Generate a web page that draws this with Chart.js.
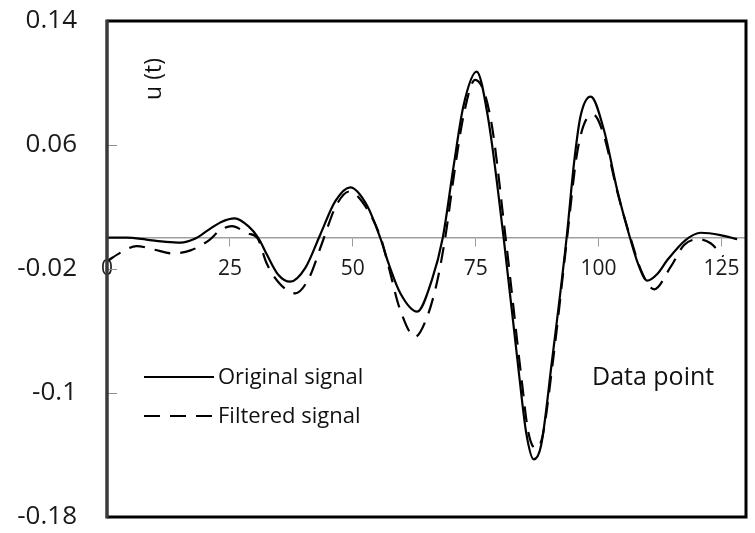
<!DOCTYPE html>
<html>
<head>
<meta charset="utf-8">
<script src="https://cdn.jsdelivr.net/npm/chart.js@4"></script>
<style>
  html, body { margin: 0; padding: 0; background: #ffffff; }
  #wrap { width: 755px; height: 533px; }
</style>
</head>
<body>
<div id="wrap"><canvas id="c" width="755" height="533"></canvas></div>
<script>
// ---- data ----
const originalX = [0, 4, 8, 12, 15, 17.75, 20.5, 23.25, 26, 28.8, 30.8, 32.5, 34.8, 37.3, 40.35, 43.4, 46.45, 49.5, 52.9, 55.6, 57.3, 59.7, 63.1, 66.1, 68.3, 70.5, 72.5, 75.2, 77.5, 80.7, 83.9, 85.3, 86.8, 88.3, 90.5, 93.5, 95, 96.3, 98.4, 101.1, 103.8, 106.5, 108.2, 109.9, 112, 114, 117.7, 120.8, 124.8, 128.2];
const originalY = [0.0003, 0.0002, -0.001, -0.0025, -0.003, -0.0007, 0.0049, 0.0104, 0.0127, 0.0075, 0.0, -0.0105, -0.0235, -0.0282, -0.0193, 0.0023, 0.0238, 0.0327, 0.021, 0.0, -0.0166, -0.0358, -0.0475, -0.027, 0.0, 0.046, 0.085, 0.1073, 0.078, 0.0, -0.09, -0.126, -0.1428, -0.134, -0.08, 0.0, 0.048, 0.078, 0.0912, 0.0697, 0.031, -0.001, -0.018, -0.0275, -0.023, -0.0142, -0.0013, 0.0034, 0.0019, -0.0008];

const filteredX = [0, 3, 6, 9.6, 13.2, 17, 20.8, 23, 25.4, 28.6, 30.6, 32.5, 35.1, 38.3, 41.05, 43.8, 46.55, 49.3, 52.65, 55.7, 57.3, 59.5, 62.7, 65, 67.1, 68.8, 70.7, 72.6, 74.9, 78, 81.1, 84.3, 85.7, 87.2, 88.6, 90.7, 93.6, 95.5, 97, 99, 101.1, 103.8, 106.7, 108.8, 111.3, 114.7, 117.4, 120.4, 122.8, 125.4];
const filteredY = [-0.015, -0.009, -0.0052, -0.0075, -0.0099, -0.008, -0.0013, 0.005, 0.0077, 0.003, 0.0, -0.0165, -0.0293, -0.0357, -0.0261, -0.0029, 0.0204, 0.030, 0.020, 0.0, -0.0185, -0.045, -0.0637, -0.052, -0.029, 0.0, 0.043, 0.08, 0.102, 0.078, 0.0, -0.09, -0.125, -0.1357, -0.128, -0.08, 0.0, 0.052, 0.073, 0.0794, 0.066, 0.03, -0.002, -0.022, -0.0331, -0.0185, -0.0045, -0.0008, -0.0034, -0.012];

const seriesNames = ["Original signal", "Filtered signal"];
const xTickValues = [0, 25, 50, 75, 100, 125];
const yTickValues = [-0.18, -0.10, -0.02, 0.06, 0.14];
const yTickLabels = ["-0.18", "-0.1", "-0.02", "0.06", "0.14"];
const yAxisTitle = "u (t)";
const xAxisTitle = "Data point";

const toPoints = (xs, ys) => xs.map((x, i) => ({ x: x, y: ys[i] }));

const framePlugin = {
  id: 'frame',
  afterDraw(chart) {
    const ctx = chart.ctx;
    const a = chart.chartArea;
    const ys = chart.scales.y;
    ctx.save();
    // inner y tick marks
    ctx.strokeStyle = '#8c8c8c';
    ctx.lineWidth = 1;
    yTickValues.forEach(v => {
      const py = Math.round(ys.getPixelForValue(v)) + 0.5;
      ctx.beginPath();
      ctx.moveTo(a.left, py);
      ctx.lineTo(a.left + 10, py);
      ctx.stroke();
    });
    // frame
    ctx.strokeStyle = '#000';
    ctx.lineWidth = 3;
    ctx.beginPath();
    ctx.moveTo(a.left, a.top);
    ctx.lineTo(a.right, a.top);
    ctx.lineTo(a.right, a.bottom);
    ctx.lineTo(a.left, a.bottom);
    ctx.stroke();
    ctx.strokeStyle = '#3a3a3a';
    ctx.lineWidth = 3.5;
    ctx.beginPath();
    ctx.moveTo(a.left, a.top - 1.5);
    ctx.lineTo(a.left, a.bottom + 1.5);
    ctx.stroke();

    // legend
    ctx.font = '22px "Open Sans"';
    ctx.textBaseline = 'middle';
    ctx.textAlign = 'left';
    ctx.fillStyle = '#111';
    const ds = chart.data.datasets;
    const rows = [377, 416];
    ds.forEach((d, i) => {
      ctx.strokeStyle = '#000';
      ctx.lineWidth = 2.2;
      ctx.setLineDash(d.borderDash || []);
      ctx.beginPath();
      ctx.moveTo(144, rows[i]);
      ctx.lineTo(214, rows[i]);
      ctx.stroke();
      ctx.setLineDash([]);
      ctx.fillText(d.label, 218, rows[i] + 1);
    });

    // axis titles
    ctx.font = '25px "Open Sans"';
    ctx.fillText(xAxisTitle, 592, 378);
    ctx.save();
    ctx.translate(154, 79);
    ctx.rotate(-Math.PI / 2);
    ctx.textAlign = 'center';
    ctx.font = '23px "Open Sans"';
    ctx.fillText(yAxisTitle, 0, 0);
    ctx.restore();
    ctx.restore();
  }
};

new Chart(document.getElementById('c'), {
  type: 'line',
  data: {
    datasets: [
      {
        label: seriesNames[0],
        data: toPoints(originalX, originalY),
        borderColor: '#000',
        borderWidth: 2.2,
        pointRadius: 0,
        cubicInterpolationMode: 'monotone',
        fill: false
      },
      {
        label: seriesNames[1],
        data: toPoints(filteredX, filteredY),
        borderColor: '#000',
        borderWidth: 2.2,
        borderDash: [16, 10],
        pointRadius: 0,
        cubicInterpolationMode: 'monotone',
        fill: false
      }
    ]
  },
  options: {
    responsive: false,
    devicePixelRatio: 1,
    animation: false,
    layout: { padding: { left: 0, top: 21, right: 9, bottom: 16 } },
    plugins: { legend: { display: false }, tooltip: { enabled: false } },
    scales: {
      x: {
        type: 'linear',
        position: { y: 0 },
        min: 0,
        max: 130,
        afterBuildTicks: s => { s.ticks = xTickValues.map(v => ({ value: v })); },
        afterFit: s => { s.height = 0; s.paddingLeft = 0; s.paddingRight = 0; },
        grid: { drawOnChartArea: false, drawTicks: true, tickLength: 8, tickColor: '#9a9a9a', tickWidth: 1 },
        border: { display: true, color: '#a0a0a0', width: 1.5 },
        ticks: { color: '#1a1a1a', font: { family: 'Open Sans', size: 21 }, padding: 10, maxRotation: 0, autoSkip: false }
      },
      y: {
        type: 'linear',
        min: -0.18,
        max: 0.14,
        afterBuildTicks: s => { s.ticks = yTickValues.map(v => ({ value: v })); },
        afterFit: s => { s.width = 107; s.paddingTop = 0; s.paddingBottom = 0; },
        grid: { drawOnChartArea: false, drawTicks: false },
        border: { display: false },
        ticks: {
          color: '#1a1a1a',
          font: { family: 'Open Sans', size: 26 },
          padding: 30,
          callback: (v) => {
            const i = yTickValues.findIndex(t => Math.abs(t - v) < 1e-9);
            return i >= 0 ? yTickLabels[i] : '';
          }
        }
      }
    }
  },
  plugins: [framePlugin]
});
</script>
</body>
</html>
